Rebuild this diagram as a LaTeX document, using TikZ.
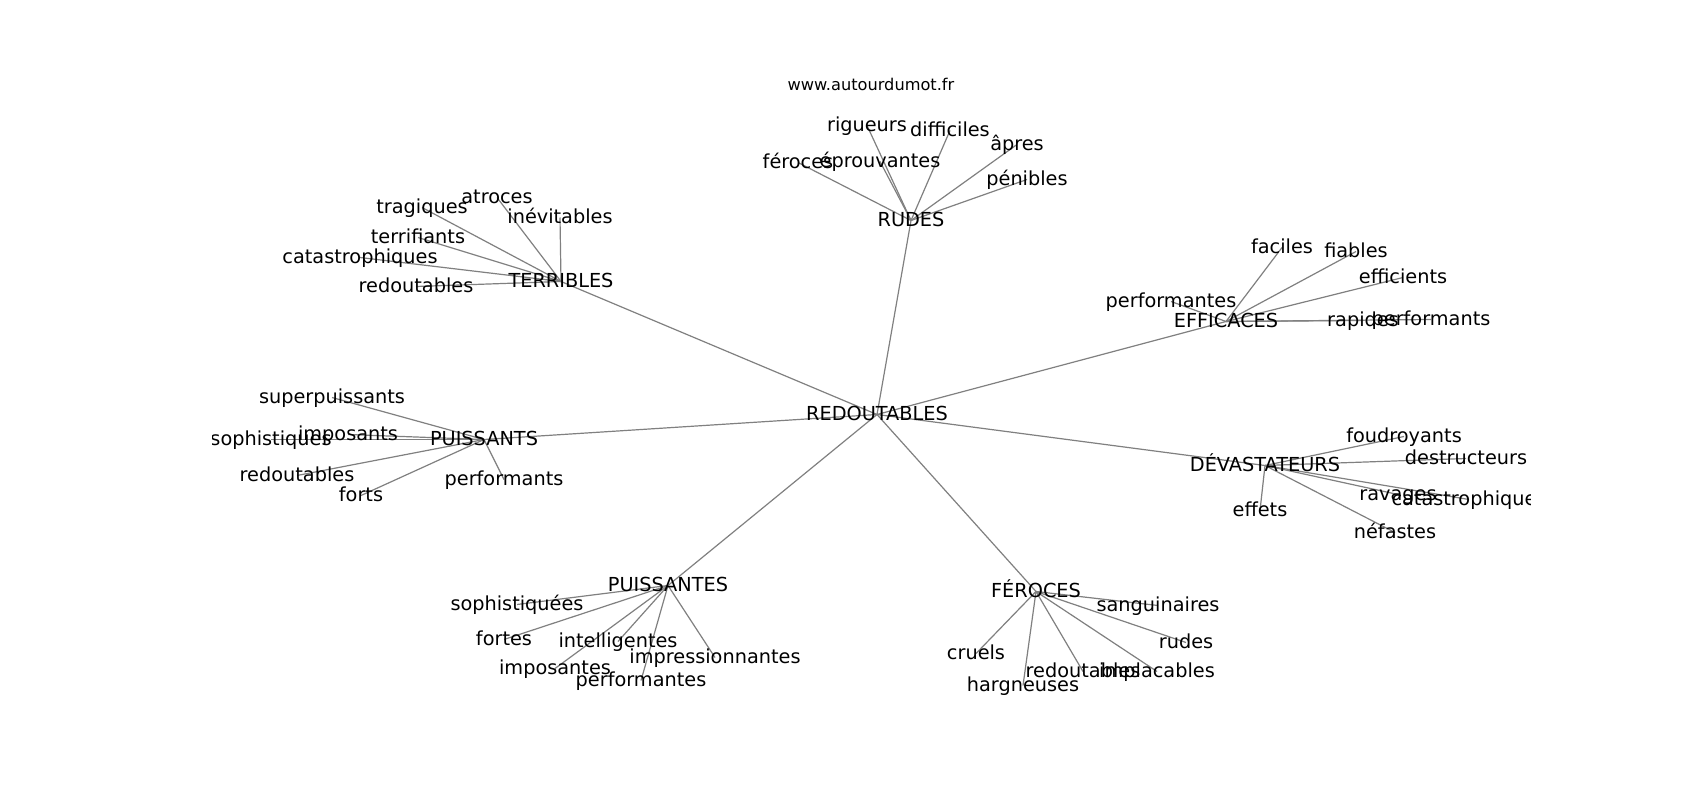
\documentclass[tikz,border=0pt]{standalone}
\usepackage{fontspec}
\setmainfont{DejaVu Sans}
\pgfdeclarelayer{bglayer}
\pgfdeclarelayer{edgelayer}
\pgfsetlayers{bglayer,edgelayer,main}
\begin{document}
\begin{tikzpicture}[x=1pt,y=-1pt,
  lbl/.style={inner sep=0pt,text height=11pt,text depth=0pt,font=\fontsize{19.3}{22}\selectfont,text=black},
  ttl/.style={inner sep=0pt,text height=9.5pt,text depth=0pt,font=\fontsize{16.2}{19}\selectfont,text=black},
  edge/.style={draw=gray,line width=1.2pt}]
\begin{pgfonlayer}{bglayer}
\fill[white] (0,0) rectangle (1700,800);
\end{pgfonlayer}
\useasboundingbox (0,0) rectangle (1700,800);
\begin{scope}[shift={(0,2.5)}]
\node[ttl] (title) at (871,83) {www.autourdumot.fr};
\begin{scope}
\clip (212.5,96) rectangle (1530,712);
% hubs
\node[lbl] (red) at (877,412) {REDOUTABLES};
\node[lbl] (rudes) at (911,218) {RUDES};
\node[lbl] (terr) at (561,279) {TERRIBLES};
\node[lbl] (eff) at (1226,319) {EFFICACES};
\node[lbl] (puis) at (484,437) {PUISSANTS};
\node[lbl] (dev) at (1265,463) {DÉVASTATEURS};
\node[lbl] (puiss) at (668,583) {PUISSANTES};
\node[lbl] (fer) at (1036,589) {FÉROCES};
% RUDES
\node[lbl] (r1) at (867,123) {rigueurs};
\node[lbl] (r2) at (950,128) {difficiles};
\node[lbl] (r3) at (1017,142) {âpres};
\node[lbl] (r4) at (1027,177) {pénibles};
\node[lbl] (r5) at (798,160) {féroces};
\node[lbl] (r6) at (880,159) {éprouvantes};
% TERRIBLES
\node[lbl] (t1) at (422,205) {tragiques};
\node[lbl] (t2) at (497,195) {atroces};
\node[lbl] (t3) at (560,215) {inévitables};
\node[lbl] (t4) at (418,235) {terrifiants};
\node[lbl] (t5) at (360,255) {catastrophiques};
\node[lbl] (t6) at (416,284) {redoutables};
% EFFICACES
\node[lbl] (e1) at (1282,245) {faciles};
\node[lbl] (e2) at (1356,249) {fiables};
\node[lbl] (e3) at (1403,275) {efficients};
\node[lbl] (e4) at (1171,299) {performantes};
\node[lbl] (e5) at (1363,318) {rapides};
\node[lbl] (e6) at (1431,317) {performants};
% PUISSANTS
\node[lbl] (p1) at (332,395) {superpuissants};
\node[lbl] (p2) at (271,437) {sophistiques};
\node[lbl] (p3) at (348,432) {imposants};
\node[lbl] (p4) at (297,473) {redoutables};
\node[lbl] (p5) at (361,493) {forts};
\node[lbl] (p6) at (504,477) {performants};
% DEVASTATEURS
\node[lbl] (d1) at (1404,434) {foudroyants};
\node[lbl] (d2) at (1466,456) {destructeurs};
\node[lbl] (d3) at (1398,492) {ravages};
\node[lbl] (d4) at (1469,497) {catastrophiques};
\node[lbl] (d5) at (1260,508) {effets};
\node[lbl] (d6) at (1395,530) {néfastes};
% PUISSANTES
\node[lbl] (q1) at (517,602) {sophistiquées};
\node[lbl] (q2) at (504,637) {fortes};
\node[lbl] (q3) at (618,639) {intelligentes};
\node[lbl] (q4) at (555,666) {imposantes};
\node[lbl] (q5) at (715,655) {impressionnantes};
\node[lbl] (q6) at (641,678) {performantes};
% FEROCES
\node[lbl] (f1) at (1158,603) {sanguinaires};
\node[lbl] (f2) at (1186,640) {rudes};
\node[lbl] (f3) at (976,651) {cruels};
\node[lbl] (f4) at (1083,669) {redoutables};
\node[lbl] (f5) at (1157,669) {implacables};
\node[lbl] (f6) at (1023,683) {hargneuses};
\end{scope}
\end{scope}
\begin{pgfonlayer}{edgelayer}
\foreach \h in {rudes,terr,eff,puis,dev,puiss,fer}
  \draw[edge] (red.center) -- (\h.center);
\foreach \c in {r1,r2,r3,r4,r5,r6}
  \draw[edge] (rudes.center) -- (\c.center);
\foreach \c in {t1,t2,t3,t4,t5,t6}
  \draw[edge] (terr.center) -- (\c.center);
\foreach \c in {e1,e2,e3,e4,e5,e6}
  \draw[edge] (eff.center) -- (\c.center);
\foreach \c in {p1,p2,p3,p4,p5,p6}
  \draw[edge] (puis.center) -- (\c.center);
\foreach \c in {d1,d2,d3,d4,d5,d6}
  \draw[edge] (dev.center) -- (\c.center);
\foreach \c in {q1,q2,q3,q4,q5,q6}
  \draw[edge] (puiss.center) -- (\c.center);
\foreach \c in {f1,f2,f3,f4,f5,f6}
  \draw[edge] (fer.center) -- (\c.center);
\end{pgfonlayer}
\end{tikzpicture}
\end{document}
